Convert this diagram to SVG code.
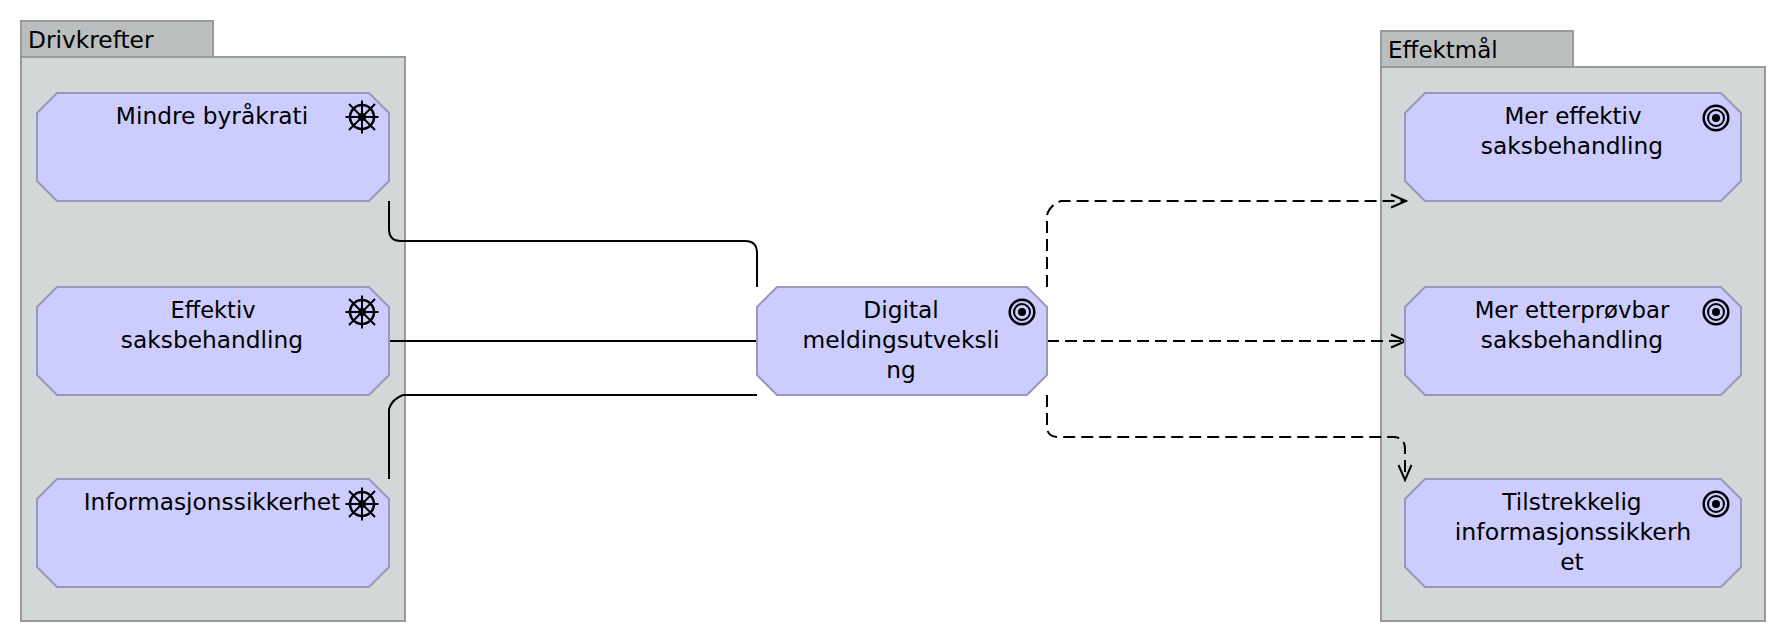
<svg xmlns="http://www.w3.org/2000/svg" width="1786" height="642" viewBox="0 0 1786 642">
<style>
text{font-family:"DejaVu Sans","Liberation Sans",sans-serif;font-size:23.3px;fill:#000}
.m{text-anchor:middle}
.grp{fill:#d2d7d7;stroke:#999;stroke-width:2}
.tab{fill:#bbbebe;stroke:#999;stroke-width:2}
.n{fill:#ccf;stroke:#9999bb;stroke-width:2}
.c{fill:none;stroke:#000;stroke-width:2}
.d{stroke-dasharray:12 6}
.ah{fill:none;stroke:#000;stroke-width:2}
.ic{fill:none;stroke:#000;stroke-width:2}
.rim{fill:none;stroke:#000;stroke-width:2.500}
</style>
<defs>
<g id="wheel"><circle r="12" class="rim"/><path class="ic" d="M-16.500 0H16.500M0-16.500V16.500M-13-13L13 13M-13 13L13-13"/><circle r="4" fill="#000"/></g>
<g id="target"><circle r="12.300" class="rim"/><circle r="8" class="ic"/><circle r="4" fill="#000"/></g>
</defs>
<g id="group-drivkrefter"><rect class="tab" x="21" y="21" width="192" height="36"/><rect class="grp" x="21" y="57" width="384" height="564"/><text x="28" y="48">Drivkrefter</text></g>
<g id="group-effektmal"><rect class="tab" x="1381" y="31" width="192" height="36"/><rect class="grp" x="1381" y="67" width="384" height="554"/><text x="1388" y="58" style="font-size:23px">Effektmål</text></g>
<g id="connectors">
<path class="c" d="M389 201V229Q389 241 401 241H745Q757 241 757 253V287"/>
<path class="c" d="M389 341H757"/>
<path class="c" d="M389 479V409Q392 399 403 395H757"/>
<path class="c d" d="M1047 287V215Q1050 205 1061 201H1405"/>
<path class="c d" d="M1047 341H1405"/>
<path class="c d" d="M1047 395V427Q1047 437 1059 437H1393Q1405 437 1405 449V479"/>
<path class="ah" d="M1391 194.500L1406 201L1391 207.500"/>
<path class="ah" d="M1391 334.500L1406 341L1391 347.500"/>
<path class="ah" d="M1398.500 465L1405 480L1411.500 465"/>
</g>
<g id="node-mindre"><path class="n" d="M57 93H369L389 113V181L369 201H57L37 181V113Z"/><text class="m" x="212" y="124">Mindre byråkrati</text><use href="#wheel" x="362" y="117"/></g>
<g id="node-effektiv"><path class="n" d="M57 287H369L389 307V375L369 395H57L37 375V307Z"/><text class="m" x="213" y="318" style="font-size:22.500px">Effektiv</text><text class="m" x="212" y="348">saksbehandling</text><use href="#wheel" x="362" y="312"/></g>
<g id="node-info"><path class="n" d="M57 479H369L389 499V567L369 587H57L37 567V499Z"/><text class="m" x="212" y="510">Informasjonssikkerhet</text><use href="#wheel" x="362" y="504"/></g>
<g id="node-digital"><path class="n" d="M777 287H1027L1047 307V375L1027 395H777L757 375V307Z"/><text class="m" x="901" y="318">Digital</text><text class="m" x="901" y="348">meldingsutveksli</text><text class="m" x="901" y="378">ng</text><use href="#target" x="1022" y="312"/></g>
<g id="node-mer-effektiv"><path class="n" d="M1425 93H1721L1741 113V181L1721 201H1425L1405 181V113Z"/><text class="m" x="1573" y="124" style="font-size:23px">Mer effektiv</text><text class="m" x="1572" y="154">saksbehandling</text><use href="#target" x="1716" y="118"/></g>
<g id="node-mer-etterprovbar"><path class="n" d="M1425 287H1721L1741 307V375L1721 395H1425L1405 375V307Z"/><text class="m" x="1572" y="318" style="font-size:22.800px">Mer etterprøvbar</text><text class="m" x="1572" y="348">saksbehandling</text><use href="#target" x="1716" y="312"/></g>
<g id="node-tilstrekkelig"><path class="n" d="M1425 479H1721L1741 499V567L1721 587H1425L1405 567V499Z"/><text class="m" x="1572" y="510">Tilstrekkelig</text><text class="m" x="1573" y="540" style="font-size:23.700px">informasjonssikkerh</text><text class="m" x="1572" y="570">et</text><use href="#target" x="1716" y="504"/></g>
</svg>
